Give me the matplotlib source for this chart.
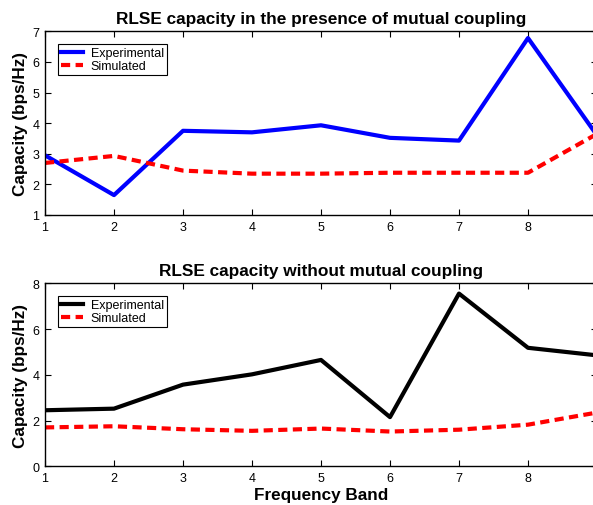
import matplotlib
matplotlib.use("Agg")
import matplotlib.pyplot as plt

plt.rcParams['font.family'] = ['Liberation Sans', 'DejaVu Sans']

bands = [1, 2, 3, 4, 5, 6, 7, 8, 9]
tick_labels = ['1', '2', '3', '4', '5', '6', '7', '8']

# with mutual coupling
exp_mc = [2.95, 1.65, 3.75, 3.70, 3.93, 3.52, 3.43, 6.78, 3.60]
sim_mc = [2.70, 2.93, 2.45, 2.35, 2.35, 2.38, 2.38, 2.38, 3.65]

# without mutual coupling
exp_nomc = [2.45, 2.52, 3.57, 4.02, 4.65, 2.15, 7.55, 5.18, 4.85]
sim_nomc = [1.70, 1.75, 1.62, 1.55, 1.65, 1.52, 1.60, 1.82, 2.35]

W, H = 593, 506
fig = plt.figure(figsize=(W / 100, H / 100), dpi=100)


def setup(ax, title, ylim, yticks):
    ax.set_xlim(1, 9)
    ax.set_ylim(*ylim)
    ax.set_xticks(bands[:-1])
    ax.set_xticklabels(tick_labels)
    ax.set_yticks(yticks)
    ax.tick_params(direction='in', top=True, right=True, labelsize=9, length=4, pad=4)
    ax.set_title(title, fontsize=12.4, fontweight='bold', pad=6)
    ax.set_ylabel('Capacity (bps/Hz)', fontsize=12.3, fontweight='bold', labelpad=3)
    for s in ax.spines.values():
        s.set_linewidth(1.0)
    leg = ax.legend(loc='upper left', fontsize=9, fancybox=False, edgecolor='black',
                    framealpha=1, borderaxespad=1.0, handlelength=1.8, handletextpad=0.6,
                    labelspacing=0.1, borderpad=0.25)
    leg.get_frame().set_linewidth(0.8)


x0 = 45 / W
right = 597 / W
ax1 = fig.add_axes([x0, 1 - 216 / H, right - x0, (216 - 32.3) / H])
ax1.plot(bands, exp_mc, color='#0000ff', lw=3, label='Experimental')
ax1.plot(bands, sim_mc, color='#ff0000', lw=3, dashes=(2.2, 1.3), label='Simulated')
setup(ax1, 'RLSE capacity in the presence of mutual coupling', (1, 7), range(1, 8))

ax2 = fig.add_axes([x0, 1 - 467.3 / H, right - x0, (467.3 - 284.3) / H])
ax2.plot(bands, exp_nomc, color='black', lw=3, label='Experimental')
ax2.plot(bands, sim_nomc, color='#ff0000', lw=3, dashes=(2.2, 1.3), label='Simulated')
setup(ax2, 'RLSE capacity without mutual coupling', (0, 8), range(0, 9, 2))
ax2.set_xlabel('Frequency Band', fontsize=12.3, fontweight='bold', labelpad=2)

fig.savefig('out.png', dpi=100)
